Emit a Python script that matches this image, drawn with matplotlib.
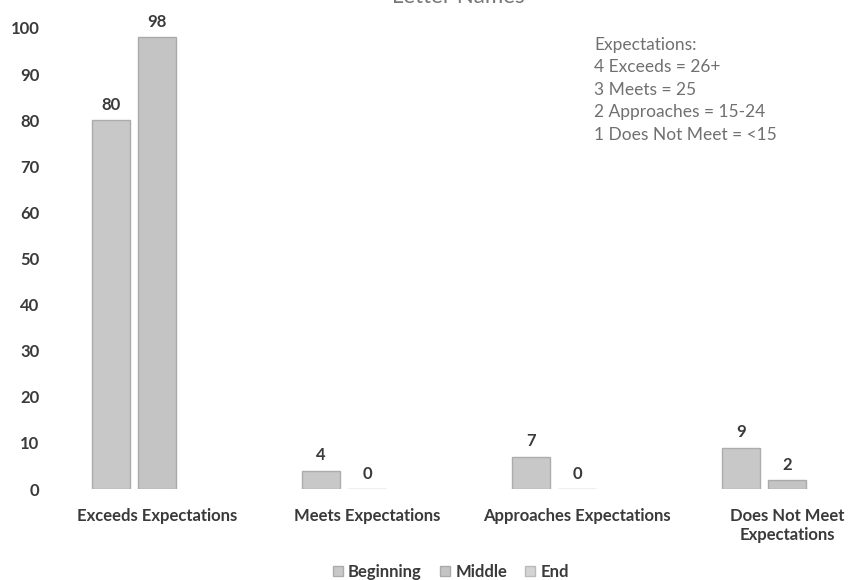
import numpy as np
import matplotlib
matplotlib.use("Agg")
import matplotlib.pyplot as plt
from matplotlib.patches import Patch

categories = ["Exceeds Expectations", "Meets Expectations",
              "Approaches Expectations", "Does Not Meet\nExpectations"]
series_names = ["Beginning", "Middle", "End"]
beginning = [80, 4, 7, 9]
middle = [98, 0, 0, 2]
end = [np.nan, np.nan, np.nan, np.nan]
y_ticks = [0, 10, 20, 30, 40, 50, 60, 70, 80, 90, 100]
key_lines = ["Expectations:", "4 Exceeds = 26+", "3 Meets = 25",
             "2 Approaches = 15-24", "1 Does Not Meet = <15"]
title = "Letter Names"

plt.rcParams["font.family"] = ["Lato", "DejaVu Sans"]

fill_colors = ["#c8c8c8", "#c4c4c4", "#d4d4d4"]
edge_colors = ["#acacac", "#aaaaaa", "#bababa"]
text_dark = "#3a3a3a"

fig = plt.figure(figsize=(8.48, 5.80), dpi=100)
ax = fig.add_axes([52 / 848, 91 / 580, 796 / 848, 461 / 580])

x = np.arange(len(categories))
step = 0.22
width = 0.18
for k, vals in enumerate([beginning, middle, end]):
    pos = x + (k - 1) * step
    ax.bar(pos, vals, width=width, color=fill_colors[k],
           edgecolor=edge_colors[k], linewidth=1.0)
    for xi, v in zip(pos, vals):
        if np.isnan(v):
            continue
        ax.annotate(f"{v:g}", (xi, v), xytext=(0, 11), textcoords="offset points",
                    ha="center", va="center", fontsize=12, fontweight="bold",
                    color=text_dark, annotation_clip=False)

ax.set_xlim(-0.5, -0.5 + 796 / 210)
ax.set_ylim(0, 100)
ax.set_yticks(y_ticks)
ax.set_yticklabels([str(t) for t in y_ticks], fontsize=12, fontweight="bold",
                   color=text_dark)
ax.set_xticks(x)
ax.set_xticklabels(categories, fontsize=12, fontweight="bold", color=text_dark,
                   linespacing=1.2)
ax.tick_params(axis="both", length=0)
ax.tick_params(axis="y", pad=9)
ax.tick_params(axis="x", pad=14)
for s in ax.spines.values():
    s.set_visible(False)

# rating key
for i, line in enumerate(key_lines):
    fig.text(594 / 848, 1 - (45 + 22.5 * i) / 580, line, ha="left", va="center",
             fontsize=12.5, color="#707070")

# title, mostly above the top edge
fig.text(458 / 848, 1 - 3 / 580, title, ha="center", va="baseline",
         fontsize=16, color="#777777")

handles = [Patch(facecolor=fill_colors[k], edgecolor=edge_colors[k], label=n)
           for k, n in enumerate(series_names)]
leg = fig.legend(handles=handles, loc="center", bbox_to_anchor=(451 / 848, 1 - 572 / 580),
                 ncol=3, frameon=False, fontsize=12, handlelength=0.6,
                 handleheight=0.6, handletextpad=0.3, columnspacing=1.1,
                 borderpad=0.0)
for t in leg.get_texts():
    t.set_fontweight("bold")
    t.set_color(text_dark)

fig.savefig("out.png", dpi=100)
